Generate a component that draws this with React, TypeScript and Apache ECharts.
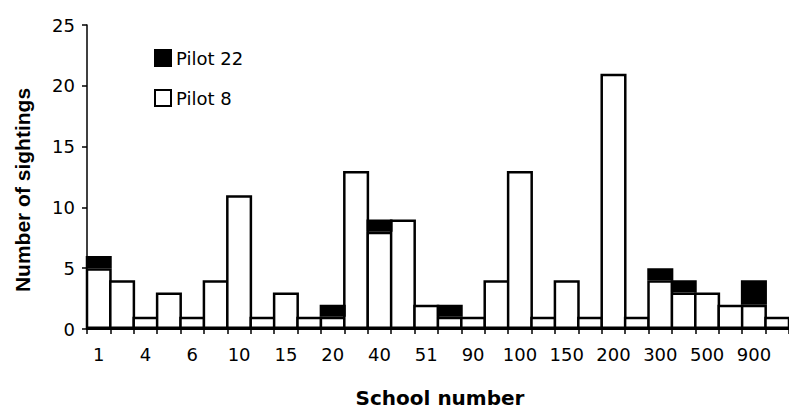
import React, { useEffect, useRef } from "react";
import * as echarts from "echarts";

const schoolLabels = ["1", "4", "6", "10", "15", "20", "40", "51", "90", "100", "150", "200", "300", "500", "900"];
// every other school shown as a label; the bar in between carries no label
const categories = schoolLabels.flatMap((l) => [l, ""]);

const pilot8 = [5, 4, 1, 3, 1, 4, 11, 1, 3, 1, 1, 13, 8, 9, 2, 1, 1, 4, 13, 1, 4, 1, 21, 1, 4, 3, 3, 2, 2, 1];
const pilot22 = [1, 0, 0, 0, 0, 0, 0, 0, 0, 0, 1, 0, 1, 0, 0, 1, 0, 0, 0, 0, 0, 0, 0, 0, 1, 1, 0, 0, 2, 0];

const yTicks = { min: 0, max: 25, interval: 5 };

export default function App() {
  const ref = useRef<HTMLDivElement>(null);
  useEffect(() => {
    if (!ref.current) return;
    const chart = echarts.init(ref.current, undefined, { renderer: "svg" });
    const tickFont = { fontFamily: "DejaVu Sans", fontSize: 18, color: "#000" };
    const gridWidth = 707;
    const bandWidth = gridWidth / categories.length;
    const border = 2.5;
    chart.setOption({
      animation: false,
      backgroundColor: "#fff",
      grid: { left: 87, top: 25, width: gridWidth, height: 304 },
      legend: {
        orient: "vertical",
        left: 154,
        top: 49,
        padding: 0,
        itemWidth: 16,
        itemHeight: 16,
        itemGap: 22,
        data: ["Pilot 22", "Pilot 8"],
        textStyle: { ...tickFont, fontSize: 18 },
        icon: "rect",
      },
      xAxis: {
        type: "category",
        data: categories,
        axisLine: { lineStyle: { color: "#000", width: 2 } },
        axisTick: { show: true, interval: 0, alignWithLabel: false, length: 5, lineStyle: { color: "#000", width: 1.5 } },
        axisLabel: { interval: 0, margin: 16, ...tickFont },
        splitLine: { show: false },
        z: 5,
      },
      yAxis: {
        type: "value",
        ...yTicks,
        axisLine: { show: true, lineStyle: { color: "#000", width: 1.5 } },
        axisTick: { show: true, length: 5, lineStyle: { color: "#000", width: 1.5 } },
        axisLabel: { margin: 12, ...tickFont },
        splitLine: { show: false },
      },
      graphic: [
        {
          type: "text",
          x: 22,
          y: 190,
          rotation: Math.PI / 2,
          style: {
            text: "Number of sightings",
            fontFamily: "Liberation Sans",
            fontWeight: "bold",
            fontSize: 21,
            fill: "#000",
            textAlign: "center",
            textVerticalAlign: "middle",
          },
        },
        {
          type: "text",
          x: 440,
          y: 398,
          style: {
            text: "School number",
            fontFamily: "DejaVu Sans",
            fontWeight: "bold",
            fontSize: 20,
            fill: "#000",
            textAlign: "center",
            textVerticalAlign: "middle",
          },
        },
      ],
      series: [
        {
          name: "Pilot 8",
          type: "bar",
          stack: "s",
          barWidth: bandWidth + border,
          data: pilot8,
          itemStyle: { color: "#fff", borderColor: "#000", borderWidth: border },
        },
        {
          name: "Pilot 22",
          type: "bar",
          stack: "s",
          barWidth: bandWidth + border,
          data: pilot22.map((v) => (v === 0 ? null : v)),
          itemStyle: { color: "#000", borderColor: "#000", borderWidth: border },
        },
      ],
    });
    return () => chart.dispose();
  }, []);
  return (
    <div
      ref={ref}
      style={{ position: "fixed", left: 0, top: 0, width: 789, height: 415, background: "#fff" }}
    />
  );
}
